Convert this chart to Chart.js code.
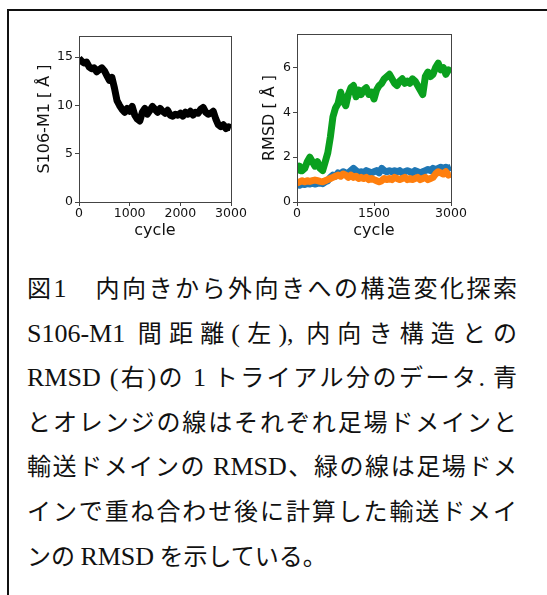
<!DOCTYPE html>
<html lang="ja">
<head>
<meta charset="utf-8">
<script src="https://cdn.jsdelivr.net/npm/chart.js@4.4.1/dist/chart.umd.min.js"></script>
<style>
html, body { margin: 0; padding: 0; background: #fff; }
body { width: 547px; height: 595px; position: relative; overflow: hidden; }
#frame { position: absolute; left: 7px; top: 9px; width: 600px; height: 700px;
         border-left: 2px solid #111; border-top: 2px solid #111; }
.chartBox { position: absolute; top: 20px; width: 230px; height: 230px; }
#caption { position: absolute; left: 27px; top: 265px; width: 490px;
           font-family: "Noto Sans CJK JP", sans-serif;
           font-size: 24px; line-height: 44.6px; color: #111; }
#caption div { height: 44.6px; text-align: justify; text-align-last: justify; text-justify: inter-character; }
#caption div.last { text-align-last: left; }
#caption .lt { font-family: "Liberation Serif", serif; font-size: 26px; }
</style>
</head>
<body>
<div id="frame"></div>
<div class="chartBox" style="left:30px"><canvas id="distChart" width="230" height="230"></canvas></div>
<div class="chartBox" style="left:250px"><canvas id="rmsdChart" width="230" height="230"></canvas></div>
<div id="caption">
  <div>図<span class="lt">1</span>　内向きから外向きへの構造変化探索</div>
  <div><span class="lt">S106-M1</span> 間距離<span class="lt">(</span>左<span class="lt">),</span> 内向き構造との</div>
  <div><span class="lt">RMSD (</span>右<span class="lt">)</span>の <span class="lt">1</span> トライアル分のデータ<span class="lt">.</span> 青</div>
  <div>とオレンジの線はそれぞれ足場ドメインと</div>
  <div>輸送ドメインの <span class="lt">RMSD</span>、緑の線は足場ドメ</div>
  <div>インで重ね合わせ後に計算した輸送ドメイ</div>
  <div class="last">ンの <span class="lt">RMSD</span> を示している。</div>
</div>
<script>
// cycle (x) values shared by every series
var cycles = [0, 50, 100, 150, 200, 250, 300, 350, 400, 450,
    500, 550, 600, 650, 700, 750, 800, 850, 900, 950,
    1000, 1050, 1100, 1150, 1200, 1250, 1300, 1350, 1400, 1450,
    1500, 1550, 1600, 1650, 1700, 1750, 1800, 1850, 1900, 1950,
    2000, 2050, 2100, 2150, 2200, 2250, 2300, 2350, 2400, 2450,
    2500, 2550, 2600, 2650, 2700, 2750, 2800, 2850, 2900, 2950, 3000];

// S106-M1 distance (left)
var distance = [14.9, 14.6, 14.4, 14.5, 14.0, 13.8, 13.9, 13.5, 13.7, 13.9,
    13.6, 13.1, 12.6, 12.9, 11.8, 10.5, 10.0, 9.6, 9.3, 9.7,
    9.4, 9.9, 9.0, 8.6, 8.4, 9.3, 9.7, 9.1, 9.5, 9.9,
    9.6, 9.3, 9.7, 9.4, 9.2, 9.5, 9.0, 8.9, 9.1, 9.0,
    9.2, 8.9, 9.3, 9.1, 9.4, 9.0, 9.3, 9.2, 9.6, 9.8,
    9.3, 9.1, 9.2, 9.4, 8.6, 8.0, 7.8, 8.0, 7.6, 7.8, 7.7];

// RMSD (right)
var rmsdScaffold = [0.8, 0.75, 0.8, 0.78, 0.82, 0.8, 0.85, 0.8, 0.83, 0.85,
    0.82, 0.9, 0.95, 1.1, 1.2, 1.15, 1.3, 1.25, 1.35, 1.3,
    1.3, 1.4, 1.5, 1.4, 1.3, 1.35, 1.3, 1.4, 1.35, 1.3,
    1.35, 1.4, 1.3, 1.5, 1.4, 1.35, 1.4, 1.35, 1.4, 1.35,
    1.4, 1.3, 1.35, 1.4, 1.35, 1.3, 1.4, 1.35, 1.3, 1.35,
    1.4, 1.45, 1.4, 1.5, 1.45, 1.5, 1.55, 1.5, 1.55, 1.5, 1.55];
var rmsdTransport = [0.85, 0.9, 0.95, 0.9, 0.95, 0.92, 0.95, 0.98, 0.95, 0.92,
    0.9, 0.95, 1.0, 1.05, 1.1, 1.15, 1.2, 1.15, 1.25, 1.2,
    1.1, 1.2, 1.1, 1.15, 1.05, 1.1, 1.05, 1.1, 1.0, 1.05,
    1.0, 0.95, 0.9, 0.95, 1.05, 1.0, 1.05, 1.0, 1.1, 1.05,
    1.0, 1.05, 1.1, 1.0, 1.05, 1.0, 1.05, 1.1, 1.0, 1.05,
    1.1, 1.0, 1.05, 1.1, 1.25, 1.35, 1.3, 1.25, 1.35, 1.2, 1.25];
var rmsdSuperposed = [1.3, 1.6, 1.4, 1.5, 1.8, 2.0, 1.8, 1.6, 1.8, 1.5,
    1.4, 1.8, 2.2, 2.9, 3.8, 4.2, 4.4, 4.9, 4.5, 4.3,
    4.8, 5.1, 5.2, 4.7, 5.0, 4.8, 5.0, 5.1, 4.8, 4.9,
    4.6, 5.0, 5.2, 5.3, 5.5, 5.6, 5.7, 5.5, 5.3, 5.2,
    5.4, 5.5, 5.3, 5.4, 5.3, 5.5, 5.4, 5.2, 5.0, 4.8,
    5.6, 5.8, 5.6, 5.7, 6.0, 6.2, 5.9, 6.0, 5.7, 5.9, 5.8];

// axis ticks
var distTicksY = [0, 5, 10, 15];
var distTicksX = [0, 1000, 2000, 3000];
var rmsdTicksY = [0, 2, 4, 6];
var rmsdTicksX = [0, 1500, 3000];

Chart.defaults.font.family = 'DejaVu Sans';
Chart.defaults.color = '#111';

function toPoints(values) {
    return values.map(function (v, i) { return { x: cycles[i], y: v }; });
}

function lineSet(values, color) {
    return {
        data: toPoints(values),
        borderColor: color,
        borderWidth: 7,
        borderJoinStyle: 'round',
        pointRadius: 0,
        tension: 0,
        fill: false
    };
}

// matplotlib style frame around the plot area
var framePlugin = {
    id: 'frame',
    afterDatasetsDraw: function (chart) {
        var a = chart.chartArea;
        var ctx = chart.ctx;
        ctx.save();
        ctx.strokeStyle = '#444';
        ctx.lineWidth = 1;
        ctx.strokeRect(Math.round(a.left) + 0.5, Math.round(a.top) + 0.5,
            Math.round(a.right - a.left), Math.round(a.bottom - a.top));
        ctx.restore();
    }
};

function plainLabel(v) { return String(v); }

function makeChart(id, datasets, o) {
    return new Chart(document.getElementById(id), {
        type: 'line',
        data: { datasets: datasets },
        plugins: [framePlugin],
        options: {
            responsive: false,
            animation: false,
            devicePixelRatio: 1,
            layout: { padding: { top: o.padTop, right: 29, left: 0, bottom: 0 } },
            plugins: { legend: { display: false }, tooltip: { enabled: false } },
            scales: {
                x: {
                    type: 'linear', min: 0, max: 3000,
                    afterBuildTicks: function (s) { s.ticks = o.xTicks.map(function (v) { return { value: v }; }); },
                    afterFit: function (s) { s.height = 48; },
                    grid: { drawOnChartArea: false, drawTicks: true, tickLength: 4, color: '#444' },
                    border: { display: false },
                    ticks: { font: { size: 12.5 }, padding: 0, maxRotation: 0, autoSkip: false, callback: plainLabel },
                    title: { display: true, text: 'cycle', font: { size: 16 }, padding: { top: 0, bottom: 10 } }
                },
                y: {
                    type: 'linear', min: 0, max: o.yMax,
                    afterBuildTicks: function (s) { s.ticks = o.yTicks.map(function (v) { return { value: v }; }); },
                    afterFit: function (s) { s.width = o.yWidth; },
                    grid: { drawOnChartArea: false, drawTicks: true, tickLength: 4, color: '#444' },
                    border: { display: false },
                    ticks: { font: { size: 12.5 }, padding: 2, autoSkip: false, callback: plainLabel },
                    title: { display: true, text: o.yTitle, font: { size: 16 }, padding: { top: o.titlePad, bottom: 0 } }
                }
            }
        }
    });
}

makeChart('distChart', [lineSet(distance, '#000000')], {
    yMax: 17.2, yTicks: distTicksY, xTicks: distTicksX,
    yTitle: 'S106-M1 [ Å ]', yWidth: 49, padTop: 16, titlePad: 5
});

makeChart('rmsdChart', [
    lineSet(rmsdSuperposed, '#0aa01e'),
    lineSet(rmsdTransport, '#ff7f0e'),
    lineSet(rmsdScaffold, '#1f77b4')
], {
    yMax: 7.5, yTicks: rmsdTicksY, xTicks: rmsdTicksX,
    yTitle: 'RMSD [ Å ]', yWidth: 47, padTop: 14, titlePad: 10
});
</script>
</body>
</html>
